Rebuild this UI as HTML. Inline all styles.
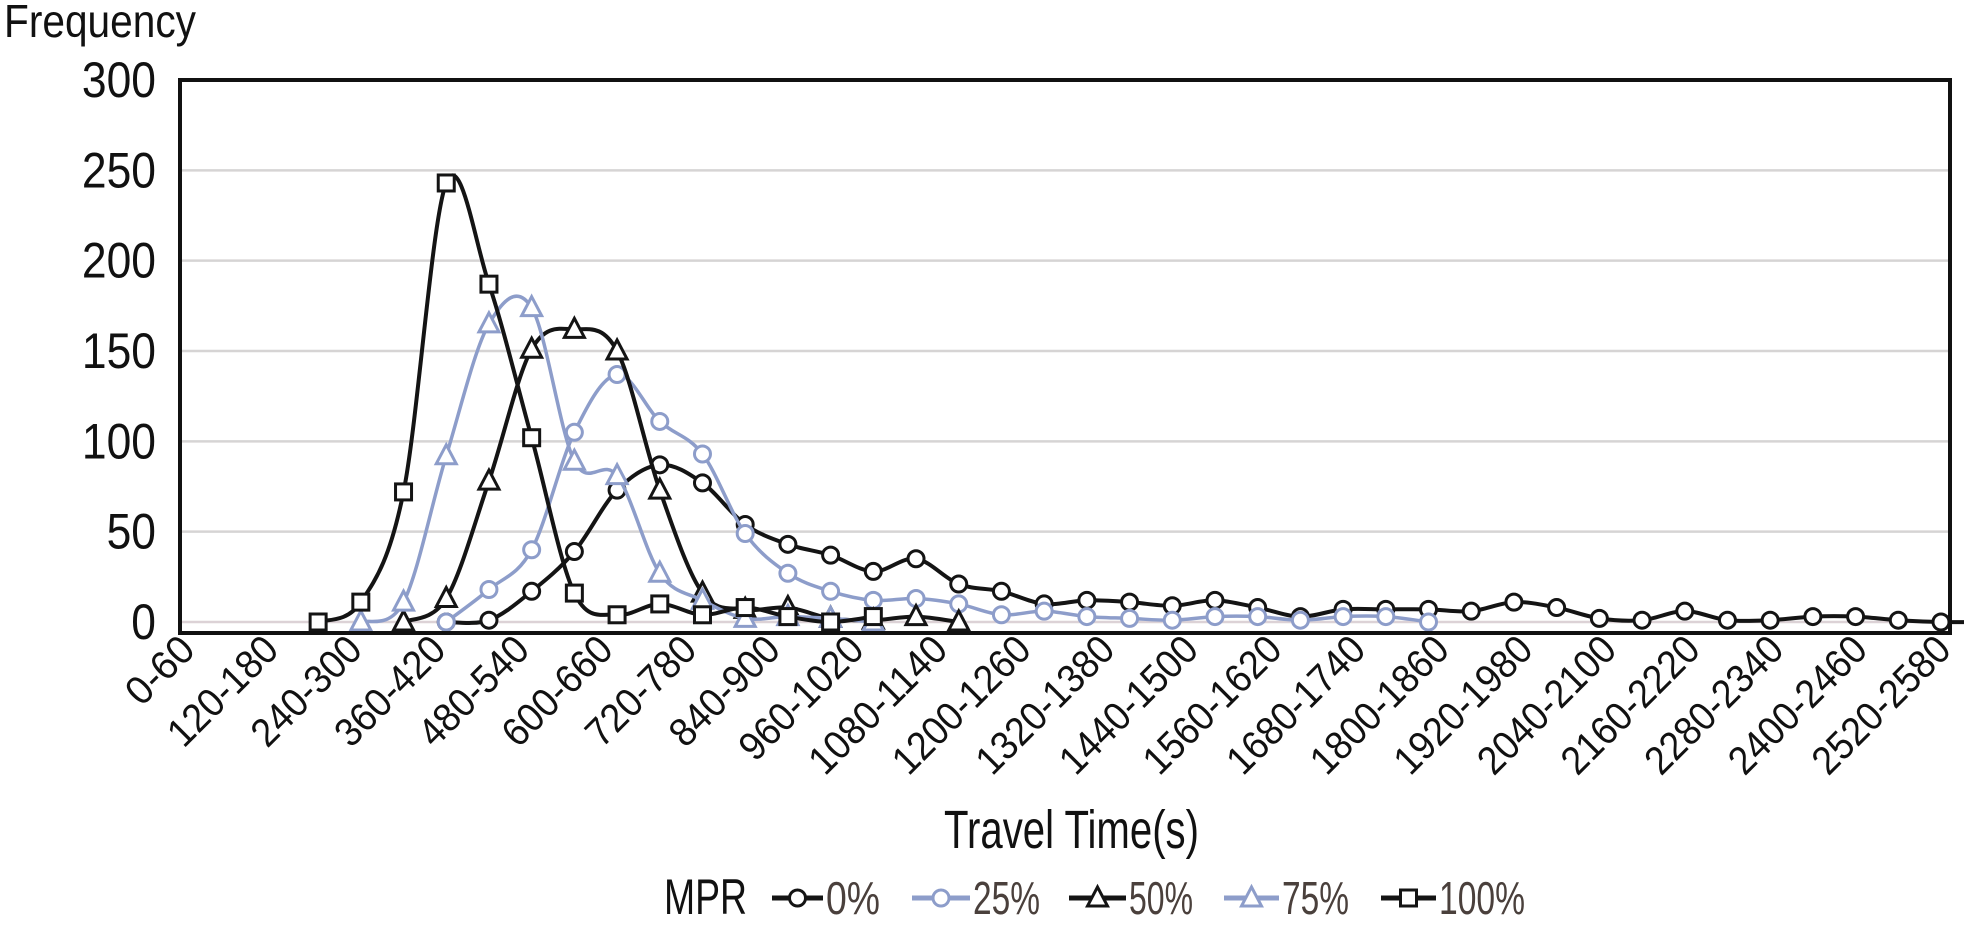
<!DOCTYPE html>
<html><head><meta charset="utf-8"><style>
html,body{margin:0;padding:0;background:#fff;}
svg{display:block;font-family:"Liberation Sans",sans-serif;}
</style></head><body>
<svg id="chart" width="1964" height="929" viewBox="0 0 1964 929" xmlns="http://www.w3.org/2000/svg">
<rect width="1964" height="929" fill="#fff"/>
<g id="grid"></g>
<g id="yticks"></g>
<g id="xticks"></g>
<g id="series"></g>
<rect x="180" y="80" width="1770" height="553" fill="none" stroke="#111" stroke-width="4"/>
<text x="4" y="37" font-size="46" fill="#111" textLength="192" lengthAdjust="spacingAndGlyphs">Frequency</text>
<text x="944" y="848" font-size="54" fill="#111" textLength="255" lengthAdjust="spacingAndGlyphs">Travel Time(s)</text>
<g id="legend">
<text x="664" y="914" font-size="50" fill="#111" textLength="83" lengthAdjust="spacingAndGlyphs">MPR</text>
</g>
</svg>
<script>
const categories = ["0-60","60-120","120-180","180-240","240-300","300-360","360-420","420-480","480-540","540-600","600-660","660-720","720-780","780-840","840-900","900-960","960-1020","1020-1080","1080-1140","1140-1200","1200-1260","1260-1320","1320-1380","1380-1440","1440-1500","1500-1560","1560-1620","1620-1680","1680-1740","1740-1800","1800-1860","1860-1920","1920-1980","1980-2040","2040-2100","2100-2160","2160-2220","2220-2280","2280-2340","2340-2400","2400-2460","2460-2520"];
const tickLabels = ["0-60","120-180","240-300","360-420","480-540","600-660","720-780","840-900","960-1020","1080-1140","1200-1260","1320-1380","1440-1500","1560-1620","1680-1740","1800-1860","1920-1980","2040-2100","2160-2220","2280-2340","2400-2460","2520-2580"];
const yTicks = [0,50,100,150,200,250,300];
const seriesNames = ["0%","25%","50%","75%","100%"];
const start0 = 6;
const mpr0 = [0,1,17,39,73,87,77,54,43,37,28,35,21,17,10,12,11,9,12,8,3,7,7,7,6,11,8,2,1,6,1,1,3,3,1,0,0];
const start25 = 6;
const mpr25 = [0,18,40,105,137,111,93,49,27,17,12,13,10,4,6,3,2,1,3,3,1,3,3,0];
const start50 = 5;
const mpr50 = [0,13,78,151,162,150,73,16,7,8,2,1,3,0];
const start75 = 4;
const mpr75 = [0,11,92,165,174,89,81,27,12,2,3,2,0];
const start100 = 3;
const mpr100 = [0,11,72,243,187,102,16,4,10,4,8,3,0,3];

const NS="http://www.w3.org/2000/svg";
const X0=190, X1=1941, Y0=622, Y300=80;
function xAt(i){return X0+(X1-X0)*i/(categories.length-1);}
function yAt(v){return Y0-(Y0-Y300)*v/300;}
function mk(tag,attrs,parent){const e=document.createElementNS(NS,tag);for(const k in attrs)e.setAttribute(k,attrs[k]);parent.appendChild(e);return e;}

const grid=document.getElementById('grid'), yt=document.getElementById('yticks'), xt=document.getElementById('xticks');
yTicks.forEach(v=>{
  const l=mk('line',{x1:180,x2:1950,y1:yAt(v),y2:yAt(v),stroke:v===0?'#dcd2d6':'#d6d4d4','stroke-width':2.5},grid);
  
  
  const s=String(v);
  const t=mk('text',{x:156,y:yAt(v)+17,'font-size':50,'text-anchor':'end',fill:'#111',textLength:s.length*24.7,lengthAdjust:'spacingAndGlyphs'},yt);
  t.textContent=s;
  
  
});
const lx0=197, lx1=1953;
tickLabels.forEach((s,k)=>{
  const x=lx0+(lx1-lx0)*k/(tickLabels.length-1), y=652;
  const t=mk('text',{x:x,y:y,'font-size':40,'text-anchor':'end',fill:'#111',textLength:s.length*19.6,lengthAdjust:'spacingAndGlyphs',transform:`rotate(-45 ${x} ${y})`},xt);
  t.textContent=s;
  
  
});

function smoothPath(pts){
  let d=`M${pts[0][0]},${pts[0][1]}`;
  for(let i=0;i<pts.length-1;i++){
    const p0=pts[Math.max(0,i-1)],p1=pts[i],p2=pts[i+1],p3=pts[Math.min(pts.length-1,i+2)];
    const c1=[p1[0]+(p2[0]-p0[0])/6,p1[1]+(p2[1]-p0[1])/6];
    const c2=[p2[0]-(p3[0]-p1[0])/6,p2[1]-(p3[1]-p1[1])/6];
    d+=` C${c1[0]},${c1[1]} ${c2[0]},${c2[1]} ${p2[0]},${p2[1]}`;
  }
  return d;
}
function marker(g,shape,x,y,color){
  let e;
  if(shape==='circle') e=mk('circle',{cx:x,cy:y,r:8,fill:'#fff',stroke:color,'stroke-width':3},g);
  else if(shape==='square') e=mk('rect',{x:x-8,y:y-8,width:16,height:16,fill:'#fff',stroke:color,'stroke-width':3},g);
  else e=mk('polygon',{points:`${x},${y-11} ${x+10},${y+8} ${x-10},${y+8}`,fill:'#fff',stroke:color,'stroke-width':3},g);
  return e;
}
const BLACK='#141414', BLUE='#8d9dca';
const defs=[
  {vals:mpr0,start:start0,color:BLACK,shape:'circle',w:4},
  {vals:mpr25,start:start25,color:BLUE,shape:'circle',w:3.5},
  {vals:mpr50,start:start50,color:BLACK,shape:'triangle',w:4},
  {vals:mpr75,start:start75,color:BLUE,shape:'triangle',w:3.5},
  {vals:mpr100,start:start100,color:BLACK,shape:'square',w:4}
];
const sg=document.getElementById('series');
defs.forEach((s,si)=>{
  const g=mk('g',{},sg);
  
  
  const pts=s.vals.map((v,j)=>[xAt(s.start+j),yAt(v)]);
  const p=mk('path',{d:smoothPath(pts),fill:'none',stroke:s.color,'stroke-width':s.w},g);
  
  
  pts.forEach(pt=>{
    const m=marker(g,s.shape,pt[0],pt[1],s.color);
    
    
  });
});
const lg=document.getElementById('legend');
const legX=[[772,826],[912,973],[1069,1129],[1224,1282],[1381,1439]];
const legW=[54,67,64,67,86];
defs.forEach((s,si)=>{
  const g=mk('g',{},lg);
  
  
  const [a,b]=legX[si], cy=898;
  mk('line',{x1:a,x2:b-3,y1:cy,y2:cy,stroke:s.color,'stroke-width':5},g);
  marker(g,s.shape,(a+b-3)/2,cy,s.color);
  const t=mk('text',{x:b,y:914,'font-size':46,fill:'#4a403c',textLength:legW[si],lengthAdjust:'spacingAndGlyphs'},g);
  t.textContent=seriesNames[si];
});
</script>
</body></html>
